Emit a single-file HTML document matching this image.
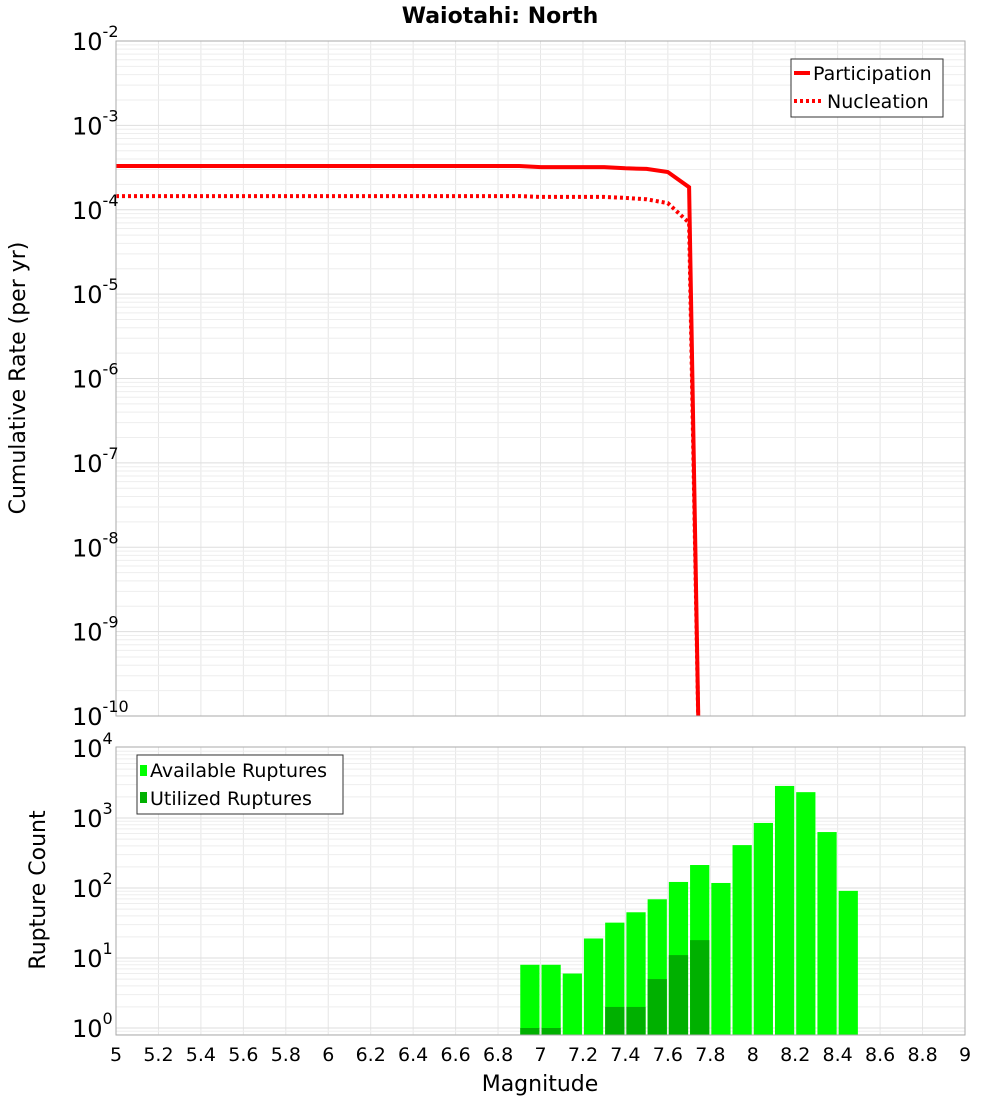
<!DOCTYPE html>
<html><head><meta charset="utf-8"><style>
body{margin:0;background:#fff;font-family:"Liberation Sans","DejaVu Sans",sans-serif}
svg text{font-family:"DejaVu Sans","Liberation Sans",sans-serif}
</style></head><body>
<svg id="chart" width="1000" height="1100" xmlns="http://www.w3.org/2000/svg">
<text x="500" y="23" text-anchor="middle" font-size="22" font-weight="bold">Waiotahi: North</text>
<g id="topg"></g><g id="botg"></g>
</svg>
<script>
const magTicks=["5","5.2","5.4","5.6","5.8","6","6.2","6.4","6.6","6.8","7","7.2","7.4","7.6","7.8","8","8.2","8.4","8.6","8.8","9"];
const curveMags=[5.0,5.5,6.0,6.5,6.9,7.0,7.3,7.4,7.5,7.6,7.7,7.75];
const participation=[3.3e-4,3.3e-4,3.3e-4,3.3e-4,3.3e-4,3.2e-4,3.2e-4,3.1e-4,3.05e-4,2.8e-4,1.85e-4,1e-11];
const nucleation=[1.45e-4,1.45e-4,1.45e-4,1.45e-4,1.45e-4,1.42e-4,1.42e-4,1.38e-4,1.33e-4,1.2e-4,7e-5,1e-11];
const binMags=[6.95,7.05,7.15,7.25,7.35,7.45,7.55,7.65,7.75,7.85,7.95,8.05,8.15,8.25,8.35,8.45];
const available=[8,8,6,19,32,45,69,122,213,118,410,850,2870,2340,630,91];
const utilized=[1,1,0,0,2,2,5,11,18,0,0,0,0,0,0,0];

const NS="http://www.w3.org/2000/svg";
const X0=116,X1=965;
const xs=m=>X0+(m-5)/4*(X1-X0);
const T={top:41,bot:716,lmax:-2,lmin:-10};
const yT=v=>T.top+(T.lmax-Math.log10(v))/(T.lmax-T.lmin)*(T.bot-T.top);
const B={top:747,bot:1035};
const yB=v=>1028-Math.log10(v)*70;
function el(p,tag,a,txt){const e=document.createElementNS(NS,tag);for(const k in a)e.setAttribute(k,a[k]);if(txt!=null)e.textContent=txt;p.appendChild(e);return e;}
const topG=document.getElementById('topg'),botG=document.getElementById('botg'),svg=document.getElementById('chart');
const defs=el(svg,'defs',{});
const cp=el(defs,'clipPath',{id:'cpt'});el(cp,'rect',{x:X0,y:T.top,width:X1-X0,height:T.bot-T.top});
function vgrid(g,y0,y1){magTicks.forEach(t=>{const x=xs(+t);const l=el(g,'line',{x1:x,x2:x,y1:y0,y2:y1,stroke:'#e6e6e6','stroke-width':1});

});}
vgrid(topG,T.top,T.bot);vgrid(botG,B.top,B.bot);
for(let d=-10;d<-2;d++)for(let k=1;k<10;k++){const y=yT(k*Math.pow(10,d));const l=el(topG,'line',{x1:X0,x2:X1,y1:y,y2:y,stroke:k==1?'#dedede':'#eeeeee'});

}
for(let d=-1;d<4;d++)for(let k=1;k<10;k++){const y=yB(k*Math.pow(10,d));if(y>B.bot||y<B.top)continue;const l=el(botG,'line',{x1:X0,x2:X1,y1:y,y2:y,stroke:k==1?'#dedede':'#eeeeee'});

}
function path(vals){return curveMags.map((m,i)=>(i?'L':'M')+xs(m).toFixed(1)+','+yT(vals[i]).toFixed(1)).join(' ');}
const pl=el(topG,'path',{d:path(participation),fill:'none',stroke:'#ff0000','stroke-width':4,'clip-path':'url(#cpt)'});


const nl=el(topG,'path',{d:path(nucleation),fill:'none',stroke:'#ff0000','stroke-width':4,'stroke-dasharray':'3,3','clip-path':'url(#cpt)'});


const bw=0.1;
binMags.forEach((m,i)=>{const x=xs(m-bw/2)+1,w=xs(m+bw/2)-xs(m-bw/2)-2;
 const y=yB(available[i]);const r=el(botG,'rect',{x:x,y:y,width:w,height:B.bot-y,fill:'#00ff00'});
 
 
 if(utilized[i]>0){const yu=yB(utilized[i]);const u=el(botG,'rect',{x:x,y:yu,width:w,height:B.bot-yu,fill:'#00b000'});
 
 }
});
[[T.top,T.bot],[B.top,B.bot]].forEach(([a,b])=>{const r=el(svg,'rect',{x:X0,y:a,width:X1-X0,height:b-a,fill:'none',stroke:'#aaaaaa'});

});
function ylab(y,e){const t=el(svg,'text',{x:72,y:y+9,'font-size':24,'text-anchor':'start'});
 
 
 el(t,'tspan',{},'10');el(t,'tspan',{dy:-13,'font-size':16},e);}
for(let d=-2;d>=-10;d--)ylab(yT(Math.pow(10,d)),String(d));
for(let d=4;d>=0;d--)ylab(yB(Math.pow(10,d)),String(d));
magTicks.forEach(t=>{const e=el(svg,'text',{x:xs(+t),y:1061,'font-size':19,'text-anchor':'middle'},t);

});
const xt=el(svg,'text',{x:540,y:1091,'font-size':22,'text-anchor':'middle'},'Magnitude');


const yt1=el(svg,'text',{x:0,y:0,'font-size':22,'text-anchor':'middle',transform:'translate(25,378) rotate(-90)'},'Cumulative Rate (per yr)');


const yt2=el(svg,'text',{x:0,y:0,'font-size':22,'text-anchor':'middle',transform:'translate(45,890) rotate(-90)'},'Rupture Count');


const lg1=el(svg,'g',{});


el(lg1,'rect',{x:791,y:59,width:152,height:58,fill:'#fff',stroke:'#333'});
el(lg1,'line',{x1:794,x2:810,y1:73,y2:73,stroke:'#f00','stroke-width':4});
el(lg1,'text',{x:813,y:80,'font-size':19},'Participation');
el(lg1,'line',{x1:794,x2:822,y1:101,y2:101,stroke:'#f00','stroke-width':4,'stroke-dasharray':'3,3'});
el(lg1,'text',{x:827,y:108,'font-size':19},'Nucleation');
const lg2=el(svg,'g',{});


el(lg2,'rect',{x:137,y:755,width:206,height:59,fill:'#fff',stroke:'#333'});
el(lg2,'rect',{x:140,y:765,width:7,height:11,fill:'#00ff00'});
el(lg2,'text',{x:150,y:777,'font-size':19},'Available Ruptures');
el(lg2,'rect',{x:140,y:792,width:7,height:11,fill:'#00b000'});
el(lg2,'text',{x:150,y:805,'font-size':19},'Utilized Ruptures');
</script>
</body></html>
